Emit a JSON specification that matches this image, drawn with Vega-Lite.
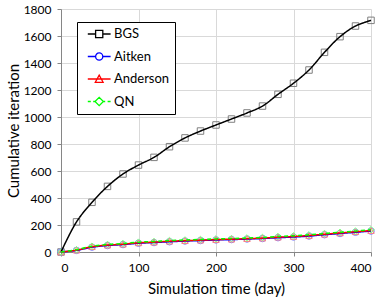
{
  "$schema": "https://vega.github.io/schema/vega-lite/v6.json",
  "width": 310,
  "height": 243,
  "autosize": {"type": "none"},
  "padding": {"left": 61, "top": 9, "right": 12, "bottom": 49},
  "background": "white",
  "datasets": {
    "pts": [
      {"series": "BGS", "t": 0, "iter": 0},
      {"series": "BGS", "t": 20, "iter": 223},
      {"series": "BGS", "t": 40, "iter": 368},
      {"series": "BGS", "t": 60, "iter": 486},
      {"series": "BGS", "t": 80, "iter": 578},
      {"series": "BGS", "t": 100, "iter": 644},
      {"series": "BGS", "t": 120, "iter": 701},
      {"series": "BGS", "t": 140, "iter": 780},
      {"series": "BGS", "t": 160, "iter": 845},
      {"series": "BGS", "t": 180, "iter": 896},
      {"series": "BGS", "t": 200, "iter": 941},
      {"series": "BGS", "t": 220, "iter": 985},
      {"series": "BGS", "t": 240, "iter": 1030},
      {"series": "BGS", "t": 260, "iter": 1081},
      {"series": "BGS", "t": 280, "iter": 1168},
      {"series": "BGS", "t": 300, "iter": 1250},
      {"series": "BGS", "t": 320, "iter": 1348},
      {"series": "BGS", "t": 340, "iter": 1479},
      {"series": "BGS", "t": 360, "iter": 1595},
      {"series": "BGS", "t": 380, "iter": 1674},
      {"series": "BGS", "t": 400, "iter": 1716},
      {"series": "Aitken", "t": 0, "iter": 0},
      {"series": "Aitken", "t": 20, "iter": 12},
      {"series": "Aitken", "t": 40, "iter": 36},
      {"series": "Aitken", "t": 60, "iter": 48},
      {"series": "Aitken", "t": 80, "iter": 55},
      {"series": "Aitken", "t": 100, "iter": 65},
      {"series": "Aitken", "t": 120, "iter": 70},
      {"series": "Aitken", "t": 140, "iter": 76},
      {"series": "Aitken", "t": 160, "iter": 81},
      {"series": "Aitken", "t": 180, "iter": 85},
      {"series": "Aitken", "t": 200, "iter": 89},
      {"series": "Aitken", "t": 220, "iter": 92},
      {"series": "Aitken", "t": 240, "iter": 96},
      {"series": "Aitken", "t": 260, "iter": 100},
      {"series": "Aitken", "t": 280, "iter": 106},
      {"series": "Aitken", "t": 300, "iter": 111},
      {"series": "Aitken", "t": 320, "iter": 118},
      {"series": "Aitken", "t": 340, "iter": 128},
      {"series": "Aitken", "t": 360, "iter": 137},
      {"series": "Aitken", "t": 380, "iter": 146},
      {"series": "Aitken", "t": 400, "iter": 155},
      {"series": "Anderson", "t": 0, "iter": 0},
      {"series": "Anderson", "t": 20, "iter": 14},
      {"series": "Anderson", "t": 40, "iter": 39},
      {"series": "Anderson", "t": 60, "iter": 51},
      {"series": "Anderson", "t": 80, "iter": 58},
      {"series": "Anderson", "t": 100, "iter": 68},
      {"series": "Anderson", "t": 120, "iter": 73},
      {"series": "Anderson", "t": 140, "iter": 80},
      {"series": "Anderson", "t": 160, "iter": 84},
      {"series": "Anderson", "t": 180, "iter": 88},
      {"series": "Anderson", "t": 200, "iter": 92},
      {"series": "Anderson", "t": 220, "iter": 95},
      {"series": "Anderson", "t": 240, "iter": 99},
      {"series": "Anderson", "t": 260, "iter": 103},
      {"series": "Anderson", "t": 280, "iter": 110},
      {"series": "Anderson", "t": 300, "iter": 115},
      {"series": "Anderson", "t": 320, "iter": 122},
      {"series": "Anderson", "t": 340, "iter": 132},
      {"series": "Anderson", "t": 360, "iter": 141},
      {"series": "Anderson", "t": 380, "iter": 150},
      {"series": "Anderson", "t": 400, "iter": 159},
      {"series": "QN", "t": 0, "iter": 0},
      {"series": "QN", "t": 20, "iter": 17},
      {"series": "QN", "t": 40, "iter": 43},
      {"series": "QN", "t": 60, "iter": 56},
      {"series": "QN", "t": 80, "iter": 63},
      {"series": "QN", "t": 100, "iter": 73},
      {"series": "QN", "t": 120, "iter": 78},
      {"series": "QN", "t": 140, "iter": 85},
      {"series": "QN", "t": 160, "iter": 89},
      {"series": "QN", "t": 180, "iter": 93},
      {"series": "QN", "t": 200, "iter": 97},
      {"series": "QN", "t": 220, "iter": 100},
      {"series": "QN", "t": 240, "iter": 104},
      {"series": "QN", "t": 260, "iter": 108},
      {"series": "QN", "t": 280, "iter": 115},
      {"series": "QN", "t": 300, "iter": 120},
      {"series": "QN", "t": 320, "iter": 127},
      {"series": "QN", "t": 340, "iter": 137},
      {"series": "QN", "t": 360, "iter": 146},
      {"series": "QN", "t": 380, "iter": 155},
      {"series": "QN", "t": 400, "iter": 165}
    ]
  },
  "data": {"name": "pts"},
  "encoding": {
    "x": {
      "field": "t", "type": "quantitative",
      "scale": {"domain": [0, 400], "nice": false},
      "axis": {"values": [0, 100, 200, 300, 400], "title": "Simulation time (day)"}
    },
    "y": {
      "field": "iter", "type": "quantitative",
      "scale": {"domain": [0, 1800], "nice": false},
      "axis": {"values": [0, 200, 400, 600, 800, 1000, 1200, 1400, 1600, 1800], "format": "d", "title": "Cumulative iteration"}
    }
  },
  "layer": [
    {
      "mark": {"type": "point", "filled": false, "strokeWidth": 1, "size": 42, "opacity": 1},
      "encoding": {
        "color": {
          "field": "series", "type": "nominal",
          "scale": {"domain": ["BGS", "Aitken", "Anderson", "QN"], "range": ["#7f7f7f", "#7f7fff", "#ff7f7f", "#80ff80"]},
          "legend": null
        },
        "shape": {
          "field": "series", "type": "nominal",
          "scale": {"domain": ["BGS", "Aitken", "Anderson", "QN"], "range": ["square", "circle", "triangle-up", "diamond"]},
          "legend": null
        }
      }
    },
    {
      "mark": {"type": "line", "interpolate": "catmull-rom", "strokeWidth": 1.5},
      "encoding": {
        "color": {
          "field": "series", "type": "nominal",
          "scale": {"domain": ["BGS", "Aitken", "Anderson", "QN"], "range": ["#000000", "#0000ff", "#ff0000", "#00ff00"]},
          "legend": {
            "title": null,
            "orient": "none",
            "legendX": 16,
            "legendY": 13,
            "symbolSize": 144,
            "labelOffset": 18,
            "rowPadding": 8.5,
            "padding": 5,
            "strokeColor": "#000000",
            "fillColor": "#ffffff",
            "labelFont": "Lato",
            "labelFontSize": 13,
            "labelColor": "#000000",
            "encode": {
              "symbols": {
                "update": {
                  "shape": {"signal": "datum.value == 'BGS' ? 'M-0.2,0H1.1M2.3,0H3.6M1.1,-0.6H2.3V0.6H1.1Z' : datum.value == 'Aitken' ? 'M-0.2,0H1.1M2.3,0H3.6M1.1,0A0.6,0.6 0 1,0 2.3,0A0.6,0.6 0 1,0 1.1,0Z' : datum.value == 'Anderson' ? 'M-0.2,0H3.6M1.05,0.55L1.7,-0.65L2.35,0.55Z' : 'M-0.2,0H0.3M0.7,0H1.0M2.4,0H2.7M3.1,0H3.6M1.0,0L1.7,-0.7L2.4,0L1.7,0.7Z'"},
                  "fill": {"value": "transparent"},
                  "strokeWidth": {"value": 1.3}
                }
              }
            }
          }
        },
        "strokeDash": {
          "field": "series", "type": "nominal",
          "scale": {"domain": ["BGS", "Aitken", "Anderson", "QN"], "range": [[1, 0], [1, 0], [1, 0], [4, 3]]},
          "legend": null
        }
      }
    }
  ],
  "resolve": {"scale": {"color": "independent"}, "legend": {"color": "independent"}},
  "config": {
    "view": {"stroke": null},
    "font": "Lato",
    "axis": {
      "labelFont": "Lato",
      "labelFontSize": 12,
      "labelColor": "#000000",
      "titleFont": "Lato",
      "titleFontSize": 15,
      "titleFontWeight": "normal",
      "titleColor": "#000000",
      "domainColor": "#868686",
      "tickColor": "#868686",
      "tickSize": 4,
      "gridColor": "#d9d9d9",
      "grid": true
    },
    "axisX": {"labelPadding": 6, "titlePadding": 8},
    "axisY": {"labelPadding": 6, "titlePadding": 2}
  }
}
